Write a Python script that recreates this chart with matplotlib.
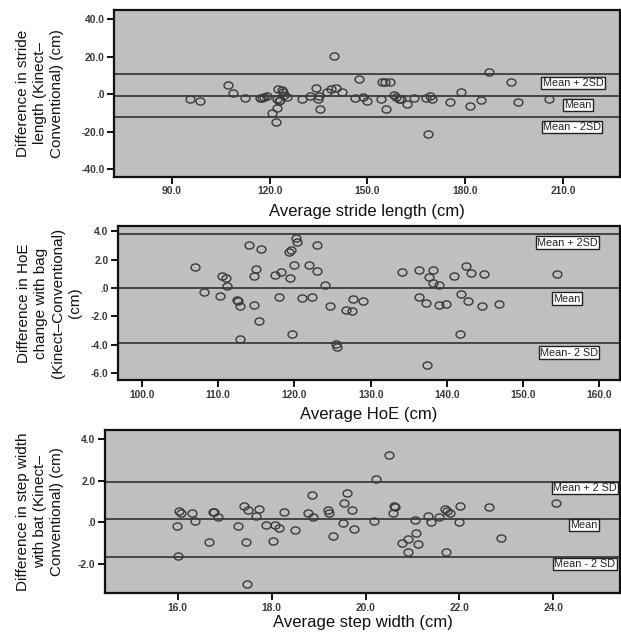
import numpy as np
import matplotlib
matplotlib.use("Agg")
import matplotlib.pyplot as plt
from matplotlib.path import Path

plt.rcParams['font.family'] = ['Liberation Sans', 'DejaVu Sans']

# ---------------- data ----------------
stride_avg = [95.6, 98.7, 107.2, 108.9, 112.4, 117.1, 117.8, 118.3, 119.3, 120.7,
              122.0, 122.2, 122.6, 122.2, 123.0, 123.3, 123.8, 124.2, 124.4, 125.4,
              129.9, 132.4, 134.3, 134.8, 135.0, 135.4, 137.5, 138.9, 139.7, 140.3,
              142.3, 146.1, 147.5, 148.5, 149.8, 154.0, 154.4, 155.4, 156.9, 155.6,
              158.2, 158.7, 159.8, 160.2, 162.2, 164.4, 167.8, 169.2, 169.7, 168.6,
              175.3, 178.8, 181.4, 184.9, 187.2, 194.0, 196.1, 205.6]
stride_diff = [-2.7, -3.7, 4.8, 0.9, -1.8, -1.8, -1.8, -1.7, -1.0, -10.1,
               -14.7, -7.1, 2.7, -2.7, -3.6, -3.0, 2.3, 1.2, -0.4, -1.4,
               -2.7, -0.9, 3.5, -2.5, -0.8, -7.8, 1.2, 3.0, 20.5, 3.5,
               1.1, -1.8, 8.3, -1.3, -3.4, -2.7, 6.5, 6.5, 6.5, -8.0,
               -0.4, -1.6, -2.7, -2.4, -5.3, -2.1, -2.1, -0.7, -2.7, -21.1,
               -3.9, 1.0, -6.2, -3.0, 12.0, 6.4, -3.9, -2.8]
stride_limits = [10.8, -1.1, -12.4]          # mean+2SD, mean, mean-2SD
stride_xticks = [90.0, 120.0, 150.0, 180.0, 210.0]
stride_yticks = [40.0, 20.0, 0.0, -20.0, -40.0]

hoe_avg = [107.0, 108.1, 110.2, 110.5, 111.0, 111.1, 112.5, 112.6, 112.8, 112.9,
           114.1, 114.7, 114.7, 115.0, 115.3, 115.6, 117.5, 118.0, 118.2, 119.3,
           119.5, 119.4, 119.7, 119.9, 120.2, 120.4, 121.0, 121.9, 122.3, 122.9,
           123.0, 124.0, 124.7, 125.4, 125.6, 126.8, 127.5, 127.7, 129.0, 134.1,
           136.3, 136.4, 137.2, 137.4, 137.6, 138.2, 138.2, 138.9, 138.9, 139.9,
           140.9, 141.7, 141.9, 142.5, 142.7, 143.1, 144.6, 144.8, 146.8, 154.4]
hoe_diff = [1.48, -0.28, -0.56, 0.87, 0.68, 0.12, -0.84, -0.91, -1.24, -3.6,
            3.05, 0.84, -1.22, 1.34, -2.32, 2.74, 0.91, -0.63, 1.1, 2.55,
            2.69, 0.73, -3.23, 1.6, 3.49, 3.21, -0.73, 1.6, -0.63, 1.22,
            3.05, 0.23, -1.27, -3.94, -4.17, -1.55, -1.62, -0.77, -0.91, 1.1,
            1.27, -0.61, -1.08, -5.39, 0.75, 1.29, 0.33, 0.21, -1.2, -1.13,
            0.84, -3.23, -0.44, 1.55, -0.91, 1.08, -1.24, 0.96, -1.13, 0.98]
hoe_limits = [3.78, 0.0, -3.87]
hoe_xticks = [100.0, 110.0, 120.0, 130.0, 140.0, 150.0, 160.0]
hoe_yticks = [4.0, 2.0, 0.0, -2.0, -4.0, -6.0]

step_avg = [16.03, 16.07, 15.99, 16.01, 16.30, 16.37, 16.67, 16.75, 16.77, 16.86,
            17.28, 17.41, 17.46, 17.47, 17.50, 17.66, 17.72, 17.87, 18.02, 18.08,
            18.15, 18.27, 18.50, 18.77, 18.85, 18.87, 19.21, 19.22, 19.31, 19.53,
            19.55, 19.60, 19.72, 19.76, 20.17, 20.22, 20.50, 20.59, 20.61, 20.63,
            20.78, 20.91, 20.91, 21.08, 21.05, 21.11, 21.34, 21.39, 21.57, 21.69,
            21.73, 21.79, 21.71, 21.99, 22.02, 22.64, 22.88, 24.06]
step_diff = [0.56, 0.46, -0.18, -1.62, 0.43, 0.08, -0.96, 0.51, 0.49, 0.27,
             -0.18, 0.80, -0.95, -2.98, 0.58, 0.29, 0.62, -0.14, -0.88, -0.14,
             -0.29, 0.48, -0.37, 0.46, 1.33, 0.27, 0.59, 0.43, -0.64, -0.05,
             0.91, 1.39, 0.59, -0.31, 0.08, 2.06, 3.23, 0.43, 0.80, 0.75,
             -0.98, -0.82, -1.41, -0.53, 0.10, -1.04, 0.32, 0.01, 0.24, 0.62,
             0.56, 0.43, -1.44, 0.03, 0.80, 0.73, -0.74, 0.91]
step_limits = [1.95, 0.14, -1.68]
step_xticks = [16.0, 18.0, 20.0, 22.0, 24.0]
step_yticks = [4.0, 2.0, 0.0, -2.0]

def fmt(v):
    s = "%.1f" % v
    if s.startswith("0."):
        s = s[1:]
    if s == "-0.0":
        s = ".0"
    return s

panels = [
    dict(x=stride_avg, y=stride_diff, lim=stride_limits, xt=stride_xticks, yt=stride_yticks,
         rect=[114.3, 10, 620, 176.7], xlim=(72.4, 227.4), ylim=(-43.9, 44.8),
         xlabel="Average stride length (cm)",
         ylabel="Difference in stride\nlength (Kinect\u2013\nConventional) (cm)",
         labels=["Mean + 2SD", "Mean", "Mean - 2SD"],
         lab_px=[(573, 83), (578, 105), (572, 127)], ylab_x=64, xlab_top=204),
    dict(x=hoe_avg, y=hoe_diff, lim=hoe_limits, xt=hoe_xticks, yt=hoe_yticks,
         rect=[118.3, 226, 620, 380], xlim=(96.9, 162.7), ylim=(-6.47, 4.36),
         xlabel="Average HoE (cm)",
         ylabel="Difference in HoE\nchange with bag\n(Kinect\u2013Conventional)\n(cm)",
         labels=["Mean + 2SD", "Mean", "Mean- 2 SD"],
         lab_px=[(567.5, 242.5), (567, 298.5), (569, 352.5)], ylab_x=82, xlab_top=407),
    dict(x=step_avg, y=step_diff, lim=step_limits, xt=step_xticks, yt=step_yticks,
         rect=[105, 429.8, 620, 593.3], xlim=(14.45, 25.42), ylim=(-3.41, 4.44),
         xlabel="Average step width (cm)",
         ylabel="Difference in step width\nwith bat (Kinect\u2013\nConventional) (cm)",
         labels=["Mean + 2 SD", "Mean", "Mean - 2 SD"],
         lab_px=[(585, 488), (584, 525), (585, 564)], ylab_x=64, xlab_top=615),
]

W, H = 621, 637
fig = plt.figure(figsize=(W / 100, H / 100), dpi=100)

theta = np.linspace(0, 2 * np.pi, 64)
ell = Path(np.column_stack([np.cos(theta), 0.8 * np.sin(theta)]))

for p in panels:
    l, t, r, b = p["rect"]
    ax = fig.add_axes([l / W, 1 - b / H, (r - l) / W, (b - t) / H])
    ax.set_facecolor("#bfbfbf")
    for s in ax.spines.values():
        s.set_linewidth(1.6)
        s.set_color("#111111")
    for v in p["lim"]:
        ax.axhline(v, color="#3c3c3c", lw=1.3, zorder=1)
    ax.plot(p["x"], p["y"], linestyle="none", marker=ell, ms=6.4,
            mfc="none", mec="#3a3a3a", mew=1.0, zorder=3)
    ax.set_xlim(*p["xlim"])
    ax.set_ylim(*p["ylim"])
    ax.set_xticks(p["xt"])
    ax.set_xticklabels([fmt(v) for v in p["xt"]])
    ax.set_yticks(p["yt"])
    ax.set_yticklabels([fmt(v) for v in p["yt"]])
    ax.tick_params(direction="out", length=5, width=1.4, color="#111111",
                   labelsize=7.4, labelcolor="#3a3a3a", pad=2)
    for lab in ax.get_xticklabels() + ax.get_yticklabels():
        lab.set_fontweight("bold")
    ax.set_xlabel(p["xlabel"], fontsize=12, color="#111111")
    ax.xaxis.set_label_coords(0.5, -(p["xlab_top"] - b) / (b - t))
    ax.set_ylabel(p["ylabel"], fontsize=11, color="#111111", linespacing=1.28)
    ax.yaxis.set_label_coords(-(l - p["ylab_x"]) / (r - l), 0.5)
    for txt, (px, py) in zip(p["labels"], p["lab_px"]):
        ax.text((px - l) / (r - l), (b - py) / (b - t), txt, transform=ax.transAxes,
                ha="center", va="center", fontsize=7.8, color="#222222", zorder=5,
                bbox=dict(boxstyle="square,pad=0.12", fc="white", ec="#222222", lw=1.0))

fig.savefig("out.png", dpi=100)
